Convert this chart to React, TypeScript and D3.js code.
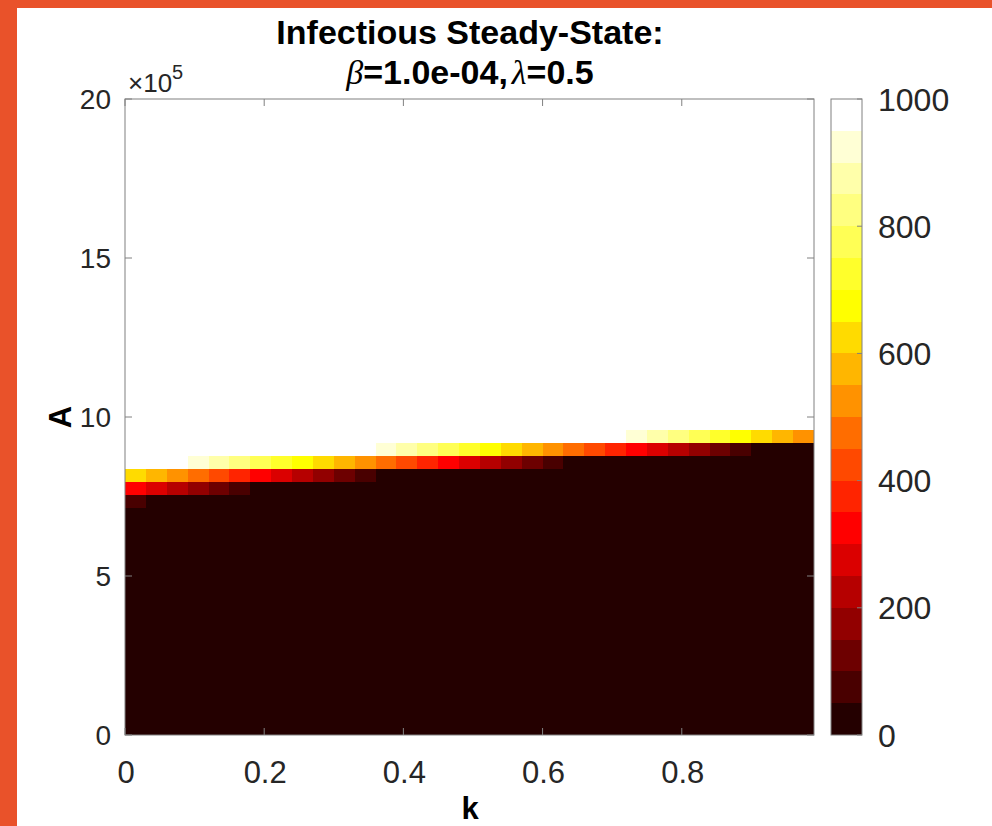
import React from "react";
import * as d3 from "d3";

// grid of the steady-state map (k across, A up, A in units of 1e5)
const kValues = [
  0, 0.03, 0.06, 0.09, 0.12, 0.15, 0.18, 0.21, 0.24, 0.27, 0.3, 0.33, 0.36, 0.39, 0.42, 0.45, 0.48,
  0.51, 0.54, 0.57, 0.6, 0.63, 0.66, 0.69, 0.72, 0.75, 0.78, 0.81, 0.84, 0.87, 0.9, 0.93, 0.96,
];
const aValues = [
  0, 0.408, 0.816, 1.224, 1.633, 2.041, 2.449, 2.857, 3.265, 3.673, 4.082, 4.49, 4.898, 5.306, 5.714,
  6.122, 6.531, 6.939, 7.347, 7.755, 8.163, 8.571, 8.98, 9.388, 9.796, 10.204, 10.612, 11.02, 11.429,
  11.837, 12.245, 12.653, 13.061, 13.469, 13.878, 14.286, 14.694, 15.102, 15.51, 15.918, 16.327,
  16.735, 17.143, 17.551, 17.959, 18.367, 18.776, 19.184, 19.592, 20,
];

// infectious count below / above the threshold band
const lowValue = 10;
const highValue = 1000;

// rows of the A grid that cross the threshold (index 18 .. 23)
const firstBandRow = 18;
const row18 = [75, 10, 10, 10, 10, 10, 10, 10, 10, 10, 10, 10, 10, 10, 10, 10, 10, 10, 10, 10, 10, 10, 10, 10, 10, 10, 10, 10, 10, 10, 10, 10, 10];
const row19 = [325, 275, 225, 175, 125, 75, 10, 10, 10, 10, 10, 10, 10, 10, 10, 10, 10, 10, 10, 10, 10, 10, 10, 10, 10, 10, 10, 10, 10, 10, 10, 10, 10];
const row20 = [625, 575, 525, 475, 425, 375, 325, 275, 225, 175, 125, 75, 10, 10, 10, 10, 10, 10, 10, 10, 10, 10, 10, 10, 10, 10, 10, 10, 10, 10, 10, 10, 10];
const row21 = [1000, 1000, 1000, 925, 875, 825, 775, 725, 675, 625, 575, 525, 475, 425, 375, 325, 275, 225, 175, 125, 75, 10, 10, 10, 10, 10, 10, 10, 10, 10, 10, 10, 10];
const row22 = [1000, 1000, 1000, 1000, 1000, 1000, 1000, 1000, 1000, 1000, 1000, 1000, 925, 875, 825, 775, 725, 675, 625, 575, 525, 475, 425, 375, 325, 275, 225, 175, 125, 75, 10, 10, 10];
const row23 = [1000, 1000, 1000, 1000, 1000, 1000, 1000, 1000, 1000, 1000, 1000, 1000, 1000, 1000, 1000, 1000, 1000, 1000, 1000, 1000, 1000, 1000, 1000, 1000, 925, 875, 825, 775, 725, 675, 625, 575, 525];
const bandRows = [row18, row19, row20, row21, row22, row23];

const xTicks = [0, 0.2, 0.4, 0.6, 0.8];
const yTicks = [0, 5, 10, 15, 20];
const cbTicks = [0, 200, 400, 600, 800, 1000];

// matlab hot(n)
function hot(n: number) {
  const n1 = Math.floor((3 / 8) * n);
  const n2 = n1;
  const n3 = n - n1 - n2;
  const out: string[] = [];
  for (let i = 0; i < n; i++) {
    const r = i < n1 ? (i + 1) / n1 : 1;
    const g = i < n1 ? 0 : i < n1 + n2 ? (i - n1 + 1) / n2 : 1;
    const b = i < n1 + n2 ? 0 : (i - n1 - n2 + 1) / n3;
    out.push(d3.rgb(r * 255, g * 255, b * 255).formatHex());
  }
  return out;
}

const width = 992;
const height = 826;
const left = 125;
const right = 814;
const top = 99;
const bottom = 735;
const font = "'Liberation Sans', Arial, Helvetica, sans-serif";
const serif = "'Liberation Serif', 'Times New Roman', serif";
const tickColor = "#262626";
const axisColor = "#808080";
const orange = "#e9522a";

const App = () => {
  const colors = hot(20);
  const color = d3.scaleQuantize<string>().domain([0, 1000]).range(colors);

  const x = d3.scaleLinear().domain([0, 0.99]).range([left, right]);
  const y = d3.scaleLinear().domain([0, 20]).range([bottom, top]);
  const kStep = kValues[1] - kValues[0];
  const aStep = aValues[1] - aValues[0];

  const cells: { key: string; x: number; y: number; w: number; h: number; fill: string }[] = [];
  aValues.forEach((a, i) => {
    const a0 = Math.max(0, a - aStep / 2);
    const a1 = Math.min(20, a + aStep / 2);
    kValues.forEach((k, j) => {
      let v: number;
      if (i < firstBandRow) v = lowValue;
      else if (i >= firstBandRow + bandRows.length) v = highValue;
      else v = bandRows[i - firstBandRow][j];
      const x0 = Math.round(x(k));
      const x1 = Math.round(x(k + kStep));
      const y0 = Math.round(y(a1));
      const y1 = Math.round(y(a0));
      cells.push({
        key: i + "-" + j,
        x: x0,
        y: y0,
        w: x1 - x0,
        h: y1 - y0,
        fill: color(Math.min(v, 999.9)),
      });
    });
  });

  // colorbar
  const cbLeft = 831;
  const cbRight = 862;
  const cbY = d3.scaleLinear().domain([0, 1000]).range([bottom, top]);
  const bandStep = 1000 / colors.length;

  return (
    <svg width={width} height={height} style={{ position: "absolute", left: 0, top: 0, background: "#fff" }}>
      <rect x={0} y={0} width={width} height={8} fill={orange} />
      <rect x={0} y={0} width={17} height={height} fill={orange} />

      <g shapeRendering="crispEdges">
        {cells.map(c => (
          <rect key={c.key} x={c.x} y={c.y} width={c.w} height={c.h} fill={c.fill} />
        ))}
      </g>
      <rect x={left} y={top} width={right - left} height={bottom - top} fill="none" stroke={axisColor} strokeWidth={1} />

      {xTicks.map(t => (
        <g key={"xt" + t}>
          <line x1={x(t)} x2={x(t)} y1={bottom} y2={bottom - 7} stroke={axisColor} />
          <line x1={x(t)} x2={x(t)} y1={top} y2={top + 7} stroke={axisColor} />
          <text x={x(t) + 1} y={783} textAnchor="middle" fontFamily={font} fontSize={31} fill={tickColor}>
            {t}
          </text>
        </g>
      ))}
      {yTicks.map(t => (
        <g key={"yt" + t}>
          <line x1={left} x2={left + 7} y1={y(t)} y2={y(t)} stroke={axisColor} />
          <line x1={right} x2={right - 7} y1={y(t)} y2={y(t)} stroke={axisColor} />
          <text x={111} y={y(t)} dy="0.36em" textAnchor="end" fontFamily={font} fontSize={28} fill={tickColor}>
            {t}
          </text>
        </g>
      ))}

      <text x={128} y={92} fontFamily={font} fontSize={26} fill={tickColor}>
        ×10
        <tspan dy={-13} fontSize={20}>5</tspan>
      </text>

      <text
        transform={`translate(71,${y(10)}) rotate(-90)`}
        textAnchor="middle"
        fontFamily={font}
        fontSize={31}
        fontWeight="bold"
        fill="#000"
      >
        A
      </text>
      <text x={470} y={819} textAnchor="middle" fontFamily={font} fontSize={31} fontWeight="bold" fill="#000">
        k
      </text>

      <text x={470} y={44} textAnchor="middle" fontFamily={font} fontSize={34} fontWeight="bold" fill="#000">
        Infectious Steady-State:
      </text>
      <text x={470} y={84} textAnchor="middle" fontFamily={font} fontSize={34} fontWeight="bold" fill="#000">
        <tspan fontFamily={serif} fontStyle="italic" fontWeight="normal">β</tspan>
        =1.0e-04,
        <tspan fontFamily={serif} fontStyle="italic" fontWeight="normal" dx={4}>λ</tspan>
        =0.5
      </text>

      <g>
        <g shapeRendering="crispEdges">
          {colors.map((c, i) => (
            <rect
              key={"cb" + i}
              x={cbLeft}
              y={Math.round(cbY((i + 1) * bandStep))}
              width={cbRight - cbLeft}
              height={Math.round(cbY(i * bandStep)) - Math.round(cbY((i + 1) * bandStep))}
              fill={c}
            />
          ))}
        </g>
        <rect x={cbLeft} y={top} width={cbRight - cbLeft} height={bottom - top} fill="none" stroke={axisColor} />
        {cbTicks.map(t => (
          <g key={"cbt" + t}>
            <line x1={cbRight} x2={cbRight - 5} y1={cbY(t)} y2={cbY(t)} stroke={axisColor} />
            <text x={878} y={cbY(t)} dy="0.36em" fontFamily={font} fontSize={32} fill={tickColor}>
              {t}
            </text>
          </g>
        ))}
      </g>
    </svg>
  );
};

export default App;
